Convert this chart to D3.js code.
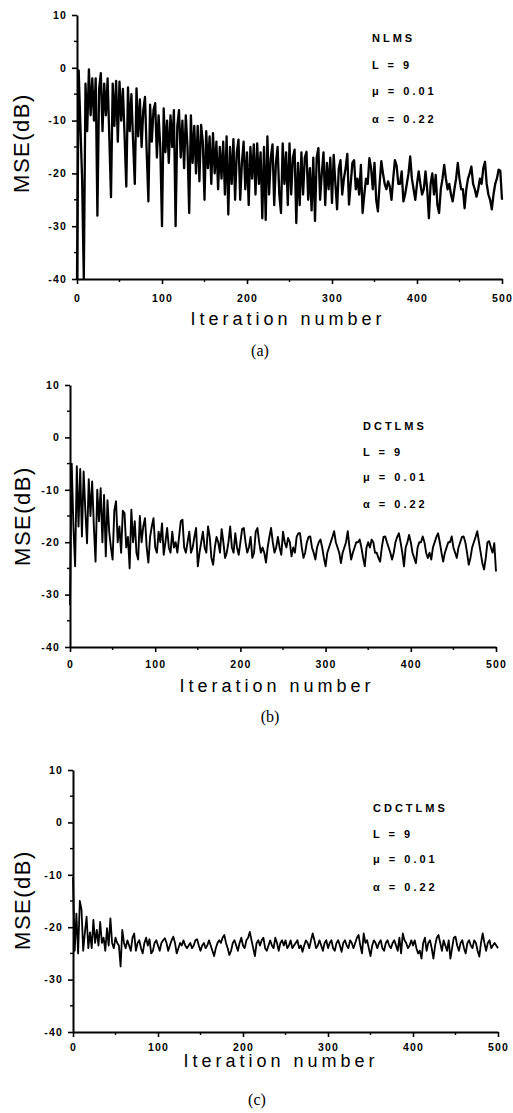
<!DOCTYPE html>
<html><head><meta charset="utf-8">
<script src="https://cdn.jsdelivr.net/npm/d3@7"></script>
<style>
html,body{margin:0;padding:0;background:#fff;}
svg{display:block;}
</style></head><body>
<svg id="chart" width="513" height="1113"></svg>
<script>
const ITER_STEP = 2;
const xTickValues = [0,100,200,300,400,500];
const xMinorTicks = [50,150,250,350,450];
const yTickValues = [10,0,-10,-20,-30,-40];
const yMinorTicks = [5,-5,-15,-25,-35];
const panelLetters = ["(a)","(b)","(c)"];
const algorithmNames = ["NLMS","DCTLMS","CDCTLMS"];
const paramLines = ["L = 9","\u03bc = 0.01","\u03b1 = 0.22"];
const xAxisTitle = "Iteration number";
const yAxisTitle = "MSE(dB)";

const nlmsMSE = [
-40,-0.5,-11,-21,-40,
-3,-12,-0.3,-9,-2,
-10,-2,-28,-4,-1,
-12,-3,-9,-2,-13,
-24.5,-3,-11,-2.5,-14,
-2.6,-10,-4,-13,-22.5,
-3.7,-12,-5,-14,-22,
-3.9,-13,-6,-15,-8,
-5.5,-16,-25.3,-7,-14,
-8,-6.7,-17,-9,-15,
-30,-7.7,-16,-10,-18,
-9,-15,-8,-30,-11,
-8,-17,-10,-19,-9,
-15,-27.5,-9,-18,-11,
-20,-11,-21.5,-10.8,-14,
-25,-12,-19,-13,-22,
-12.4,-20,-14,-23,-15,
-21,-14,-24,-13,-27.8,
-15,-22,-13.5,-25,-16,
-13.6,-25,-18,-14,-23,
-16,-26,-15,-21,-14.5,
-24,-14.3,-22,-16,-28.5,
-15,-28.8,-13,-24,-17,
-14.5,-26,-18,-15,-24,
-27.5,-14.3,-22,-16,-26,
-14.3,-24,-17,-15.5,-29.4,
-18,-26,-16,-24,-17,
-15.9,-25,-19,-27,-17,
-29,-17,-15.2,-25,-20,
-16,-26,-18,-23,-17,
-25.6,-16.5,-22,-26.8,-19,
-17.5,-24,-21,-19,-16.3,
-25.9,-22,-18,-17.5,-23,
-21,-24,-18.4,-27.5,-24,
-21,-22,-17.1,-19,-23,
-18,-25,-27.2,-22,-17.7,
-20,-22,-23,-21.5,-22.5,
-25,-21,-17.5,-18.5,-22,
-22,-19.6,-25.3,-24,-22,
-20,-16.8,-21,-23,-25,
-22,-19.6,-22,-24,-23,
-19.6,-23,-28.5,-22,-20,
-24,-20.3,-26,-27.5,-23,
-21,-18.4,-21,-23,-22,
-24,-25.3,-23,-21,-18,
-21,-23,-23,-26.6,-23,
-21,-20,-18.7,-22,-23,
-24.4,-23,-21,-22,-19,
-17.8,-22,-24,-25,-26.8,
-24,-22,-21,-19.3,-19.5,
-25];

const dctlmsMSE = [
-32,-5,-17,-24.6,-5.5,
-17,-6,-18.9,-6.5,-14,
-20.2,-8,-15,-8.4,-17,
-23.7,-10,-16,-9.7,-20,
-11,-22.7,-12,-18,-21,
-23.3,-14,-12.2,-20,-17,
-22,-14,-14.5,-21,-19,
-25,-13.8,-20,-16,-22,
-23.3,-15,-20,-17,-15.4,
-21,-23.9,-19,-17,-15.4,
-21,-22,-18,-20,-16.4,
-22.4,-20,-17.3,-21,-22,
-18,-21,-20,-22,-19,
-16,-15.7,-21,-22,-20,
-18,-22,-21,-19,-17.3,
-24.6,-22,-20,-18,-21,
-22,-17,-19,-23,-24.3,
-21,-19,-20,-22,-17.5,
-20,-23,-22,-20,-17,
-21,-22,-18.3,-21,-22.4,
-20,-17.5,-17.3,-20,-22,
-21,-19,-23,-22,-18,
-17.3,-20,-22,-21,-22,
-23.9,-21,-19,-17.3,-20,
-22,-21,-19,-21,-22.4,
-18,-20,-21,-19.2,-20,
-22.7,-21,-22,-19,-18.3,
-18.3,-21,-23,-22,-20,
-19,-18.9,-21,-22,-23.3,
-21,-20,-19.5,-21,-23,
-24.6,-22,-21,-20,-19,
-17.9,-20,-21,-22,-24,
-22,-21,-20,-17.9,-21,
-23.3,-22,-21,-20,-20,
-19.5,-21,-23,-24.6,-21,
-20,-21,-19.5,-20,-22,
-22,-23,-23.7,-21,-19,
-18.9,-20,-21,-22,-23.3,
-22,-20,-19,-18.3,-20,
-22,-24.6,-21,-20,-18.6,
-20,-22,-23,-24,-21,
-20,-20,-18.9,-20,-22,
-23,-22,-23.3,-21,-20,
-19,-18.3,-20,-22,-23.7,
-22,-21,-20,-20,-18.9,
-21,-22,-23,-21,-20,
-19,-18.9,-20,-22,-24.3,
-23,-21,-20,-19,-17.9,
-20,-22,-24,-25.2,-23,
-20,-19.8,-21,-22,-20.2,
-25.6];

const cdctlmsMSE = [
-10.4,-24.5,-17.4,-25,-15,
-16.6,-24.5,-21,-18,-24,
-21,-24,-18.6,-23,-20.5,
-23.5,-19,-23,-22,-24.5,
-20.2,-23.5,-18.3,-23,-24,
-22,-23,-23.5,-27.5,-20.5,
-23,-24,-22.5,-23.5,-24.5,
-22,-21.2,-24.5,-23,-22.5,
-24,-25,-23,-22,-23.5,
-22.3,-25,-24.5,-23,-22.5,
-23.5,-24.5,-23,-22.5,-22.1,
-23,-24.5,-23.5,-22.5,-21.8,
-23,-25,-24,-23,-23.5,
-22.5,-23.5,-24,-23.5,-23,
-24,-23.5,-22.5,-22.3,-23.5,
-24.5,-23.5,-23,-24,-23.5,
-22.5,-23.5,-24.5,-25.5,-24,
-23,-22.5,-23,-22,-21.5,
-23,-24,-25.3,-24.5,-23,
-22.5,-23.5,-24.5,-23,-22,
-23.5,-24,-22.5,-22,-20.9,
-22.5,-24,-25.5,-23,-22.5,
-23.5,-22.5,-22,-24,-24.5,
-23.5,-22.5,-23.5,-24,-22,
-23,-24.5,-23,-22.5,-23.5,
-22.5,-24,-23.5,-22.5,-24,
-23.5,-23,-22.5,-24,-23.5,
-24.7,-23.5,-22.5,-23,-24,
-22.5,-21.2,-22.5,-24,-23.5,
-22.5,-23.5,-24.5,-23,-22.5,
-24,-23,-22.5,-24,-24.5,
-23,-22.5,-23.5,-24.7,-23,
-22.5,-23.5,-24,-22.5,-23,
-24,-23,-22,-21.5,-23.5,
-25,-21.2,-23,-22.5,-24,
-25.5,-23.5,-22.5,-23,-24,
-23,-22.5,-24,-24.5,-23,
-22.5,-23.5,-24,-23,-22.5,
-23.5,-24.5,-22,-25,-21.2,
-22.5,-23,-24,-23.5,-22.5,
-23.5,-22.5,-24,-25,-24.5,
-26,-23,-22,-24.5,-23,
-22.5,-24,-26,-23.5,-22,
-21.5,-23,-24.5,-22.5,-23.5,
-24.5,-22.5,-26,-24,-22,
-21.8,-23.5,-24.5,-23,-22.5,
-24,-25,-23,-22.5,-23.5,
-24,-22.5,-23,-24.5,-25.6,
-23,-21.2,-23,-24.5,-23,
-22.5,-24,-23.5,-23,-23.5,
-24];

const seriesList = [nlmsMSE, dctlmsMSE, cdctlmsMSE];

// layout of each panel (pixels)
const layout = [
  {x0:77, x1:502, yTop:15,  yBot:279,  ylab:[21,143], xlab:[288,325], letter:[260,356], annX:372, annY:[38,65,91,119], xTickDy:23, sw:2.3},
  {x0:70, x1:496, yTop:385, yBot:647,  ylab:[22,516], xlab:[277,692], letter:[270,722], annX:363, annY:[426,452,477,504], xTickDy:21, sw:1.9},
  {x0:73, x1:498, yTop:770, yBot:1032, ylab:[22,900], xlab:[281,1067], letter:[257,1105], annX:373, annY:[808,834,859,887], xTickDy:19, sw:1.8}
];

const svg = d3.select("#chart");
const sans = "'Liberation Sans', Arial, sans-serif";

layout.forEach((L, p) => {
  const data = seriesList[p];
  const x = d3.scaleLinear().domain([0,500]).range([L.x0, L.x1]);
  const y = d3.scaleLinear().domain([-40,10]).range([L.yBot, L.yTop]);
  const g = svg.append("g");

  // series
  const line = d3.line().x((d,i) => x(i*ITER_STEP)).y(d => y(d));
  g.append("path").datum(data)
    .attr("d", line).attr("fill","none").attr("stroke","#000")
    .attr("stroke-width",L.sw).attr("stroke-linejoin","round");

  // x axis
  const xa = g.append("g").attr("transform",`translate(0,${L.yBot})`)
    .call(d3.axisBottom(x).tickValues(xTickValues).tickSize(5).tickSizeOuter(0).tickFormat(d3.format("d")));
  xa.select(".domain").attr("stroke-width",2);
  xa.selectAll(".tick line").attr("stroke-width",1.6);
  xa.selectAll(".tick text").attr("y", L.xTickDy).attr("dy",0)
    .style("font-family",sans).style("font-size","10.5px").style("font-weight","bold")
    .style("letter-spacing","1.2px").attr("fill","#000");
  xa.selectAll(".minor").data(xMinorTicks).enter().append("line")
    .attr("x1",d=>x(d)).attr("x2",d=>x(d)).attr("y1",0).attr("y2",3)
    .attr("stroke","#000").attr("stroke-width",1.4);

  // y axis
  const ya = g.append("g").attr("transform",`translate(${L.x0},0)`)
    .call(d3.axisLeft(y).tickValues(yTickValues).tickSize(5).tickSizeOuter(0).tickPadding(5).tickFormat(d => String(d)));
  ya.select(".domain").attr("stroke-width",2);
  ya.selectAll(".tick line").attr("stroke-width",1.6);
  ya.selectAll(".tick text")
    .style("font-family",sans).style("font-size","10.5px").style("font-weight","bold")
    .style("letter-spacing","1.2px").attr("fill","#000");
  ya.selectAll(".minor").data(yMinorTicks).enter().append("line")
    .attr("x1",-3).attr("x2",0).attr("y1",d=>y(d)).attr("y2",d=>y(d))
    .attr("stroke","#000").attr("stroke-width",1.4);

  // y title
  g.append("text").attr("transform",`translate(${L.ylab[0]},${L.ylab[1]}) rotate(-90)`)
    .attr("text-anchor","middle").attr("dy","0.36em")
    .style("font-family",sans).style("font-size","22px").style("letter-spacing","1.5px")
    .text(yAxisTitle);

  // x title
  g.append("text").attr("x",L.xlab[0]).attr("y",L.xlab[1]).attr("text-anchor","middle")
    .style("font-family",sans).style("font-size","18px").style("letter-spacing","4px")
    .text(xAxisTitle);

  // panel letter
  g.append("text").attr("x",L.letter[0]).attr("y",L.letter[1]).attr("text-anchor","middle")
    .style("font-family","'Liberation Serif', 'Times New Roman', serif").style("font-size","16px")
    .text(panelLetters[p]);

  // annotations
  const ann = [algorithmNames[p]].concat(paramLines);
  ann.forEach((t,k) => {
    g.append("text").attr("x",L.annX).attr("y",L.annY[k]).attr("dy","0.35em")
      .style("font-family",sans).style("font-size","11px").style("font-weight","bold")
      .style("letter-spacing","3px").text(t);
  });
});
</script>
</body></html>
